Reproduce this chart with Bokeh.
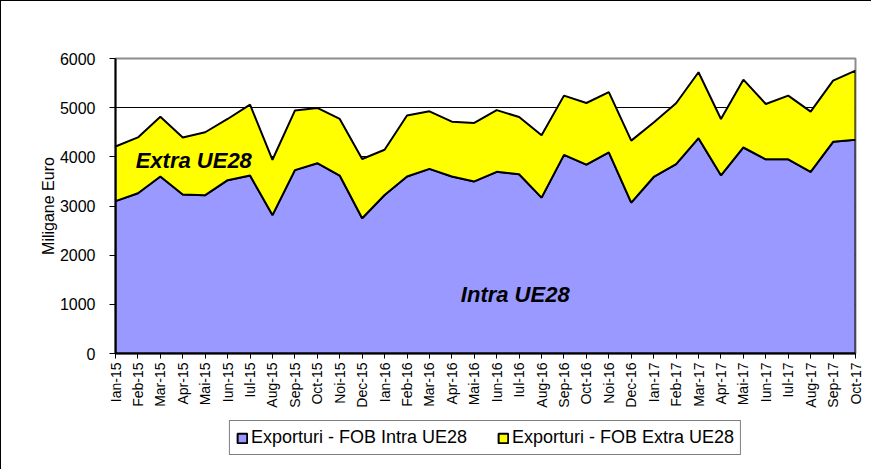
import math
from bokeh.plotting import figure
from bokeh.layouts import column
from bokeh.models import Range1d, FixedTicker, Legend, LegendItem, Label
from bokeh.embed import file_html
from bokeh.resources import INLINE

months = ["Ian-15", "Feb-15", "Mar-15", "Apr-15", "Mai-15", "Iun-15", "Iul-15", "Aug-15",
          "Sep-15", "Oct-15", "Noi-15", "Dec-15",
          "Ian-16", "Feb-16", "Mar-16", "Apr-16", "Mai-16", "Iun-16", "Iul-16", "Aug-16",
          "Sep-16", "Oct-16", "Noi-16", "Dec-16",
          "Ian-17", "Feb-17", "Mar-17", "Apr-17", "Mai-17", "Iun-17", "Iul-17", "Aug-17",
          "Sep-17", "Oct-17"]

intra = [3100, 3260, 3600, 3235, 3220, 3525, 3620, 2815, 3730, 3870, 3620, 2750,
         3225, 3600, 3755, 3600, 3500, 3695, 3645, 3170, 4040, 3840, 4090, 3070,
         3590, 3850, 4380, 3625, 4190, 3950, 3950, 3695, 4305, 4345]

extra = [1110, 1135, 1215, 1160, 1280, 1245, 1440, 1125, 1210, 1125, 1150, 1205,
         920, 1240, 1170, 1115, 1190, 1255, 1165, 1270, 1205, 1255, 1225, 1260,
         1110, 1240, 1340, 1145, 1380, 1125, 1295, 1225, 1245, 1410]

y_ticks = [0, 1000, 2000, 3000, 4000, 5000, 6000]
grid_ticks = [1000, 2000, 3000, 4000, 5000]

series_names = ["Exporturi - FOB Intra UE28", "Exporturi - FOB Extra UE28"]
area_labels = ["Extra UE28", "Intra UE28"]

FONT = "Liberation Sans"
INTRA_COLOR = "#9999ff"
EXTRA_COLOR = "#ffff00"

x = list(range(len(months)))
top = [a + b for a, b in zip(intra, extra)]

p = figure(width=870, height=412, output_backend="svg", toolbar_location=None,
           x_range=Range1d(0, len(months) - 1), y_range=Range1d(0, 6000),
           min_border_left=114, min_border_right=16, min_border_top=57, min_border_bottom=60)

p.outline_line_color = "#8c8c8c"
p.outline_line_width = 2
p.background_fill_color = "white"
p.border_fill_color = "white"

# polygons built from the data arrays
intra_xs = x + [x[-1], x[0]]
intra_ys = intra + [0, 0]
extra_xs = x + x[::-1]
extra_ys = top + intra[::-1]

p.patch(intra_xs, intra_ys, fill_color=INTRA_COLOR, line_color="black", line_width=2)
p.patch(extra_xs, extra_ys, fill_color=EXTRA_COLOR, line_color="black", line_width=2)

p.xgrid.visible = False
p.ygrid.ticker = FixedTicker(ticks=grid_ticks)
p.ygrid.grid_line_color = "black"
p.ygrid.grid_line_width = 1

# axes
p.xaxis.ticker = FixedTicker(ticks=x)
p.xaxis.major_label_overrides = {i: m for i, m in zip(x, months)}
p.xaxis.major_label_orientation = math.pi / 2
p.xaxis.major_label_text_font = FONT
p.xaxis.major_label_text_font_size = "14px"
p.xaxis.major_label_text_color = "black"
p.xaxis.major_label_standoff = 4
p.xaxis.minor_tick_line_color = None
p.xaxis.major_tick_in = 0
p.xaxis.major_tick_out = 5
p.xaxis.axis_line_width = 2
p.xaxis.axis_line_color = "black"
p.xaxis.major_tick_line_color = "black"

p.yaxis.ticker = FixedTicker(ticks=y_ticks)
p.yaxis.major_label_text_font = FONT
p.yaxis.major_label_text_font_size = "16px"
p.yaxis.major_label_text_color = "black"
p.yaxis.major_label_standoff = 14
p.yaxis.minor_tick_line_color = None
p.yaxis.major_tick_in = 0
p.yaxis.major_tick_out = 6
p.yaxis.axis_line_width = 2
p.yaxis.axis_line_color = "black"
p.yaxis.major_tick_line_color = "black"
p.yaxis.axis_label = "Miligane Euro"
p.yaxis.axis_label_text_font = FONT
p.yaxis.axis_label_text_font_size = "16px"
p.yaxis.axis_label_text_font_style = "normal"
p.yaxis.axis_label_text_color = "black"
p.yaxis.axis_label_standoff = 0

# in-chart labels
p.add_layout(Label(x=0.9, y=3920, text=area_labels[0], text_font=FONT, text_font_size="22px",
                   text_font_style="bold italic", text_color="black", text_baseline="middle"))
p.add_layout(Label(x=15.4, y=1200, text=area_labels[1], text_font=FONT, text_font_size="22px",
                   text_font_style="bold italic", text_color="black", text_baseline="middle"))

# legend strip below the chart (its patches lie outside the strip's visible ranges)
lf = figure(width=870, height=56, output_backend="svg", toolbar_location=None,
            x_range=Range1d(-20, -10), y_range=Range1d(-20, -10),
            x_axis_type=None, y_axis_type=None,
            min_border_left=0, min_border_right=0, min_border_top=0, min_border_bottom=0)
lf.outline_line_color = None
lf.grid.visible = False
lf.border_fill_color = "white"
li = lf.patch(intra_xs, intra_ys, fill_color=INTRA_COLOR, line_color="black", line_width=2)
le = lf.patch(extra_xs, extra_ys, fill_color=EXTRA_COLOR, line_color="black", line_width=2)

legend = Legend(items=[LegendItem(label=series_names[0], renderers=[li]),
                       LegendItem(label=series_names[1], renderers=[le])],
                orientation="horizontal", location="top_center", margin=7,
                padding=6, spacing=30, label_standoff=3,
                glyph_width=12, glyph_height=12,
                label_text_font=FONT, label_text_font_size="18px", label_text_color="black",
                border_line_color="black", border_line_width=1.5,
                background_fill_color="white", background_fill_alpha=1)
lf.add_layout(legend, "center")

layout = column(p, lf)
layout.styles = {"border-left": "1px solid black", "border-top": "1px solid black"}

open("out.html", "w").write(file_html(layout, INLINE))
